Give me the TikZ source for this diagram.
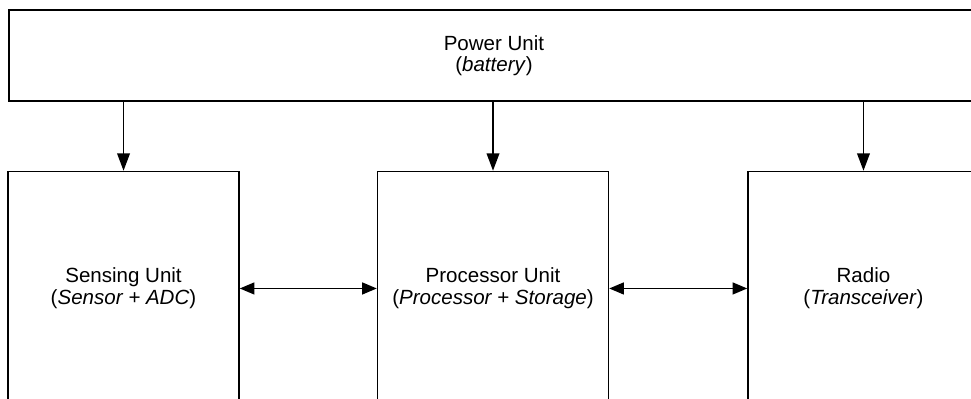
\documentclass[tikz,border=0pt]{standalone}
\usepackage{fontspec}
\setmainfont{Liberation Sans}
\usetikzlibrary{positioning,arrows.meta}

\begin{document}
\begin{tikzpicture}[x=0.75pt, y=-0.75pt, every node/.style={font=\fontsize{15.4}{16.2}\selectfont}]
      \tikzstyle{unitbox}=[draw, line width=1.1pt, align=center, inner sep=0pt, minimum width=173.25pt, minimum height=175.5pt]
      \tikzstyle{feed}=[-{Triangle[length=13pt, width=9.5pt]}, line width=1.1pt]
      \tikzstyle{link}=[{Triangle[length=11pt, width=9pt]}-{Triangle[length=11pt, width=9pt]}, line width=1.1pt]
      \useasboundingbox (0,0) rectangle (971,399);
      \clip (0,0) rectangle (971,399);
      \node[unitbox, minimum width=727.5pt, minimum height=68.25pt] (power) at (494,55.5) {Power Unit\\(\textit{battery})};
      \node[unitbox, below=51.75pt of power.south, anchor=north, xshift=-0.75pt] (proc) {Processor Unit\\(\textit{Processor + Storage})};
      \node[unitbox, left=102.75pt of proc] (sense) {Sensing Unit\\(\textit{Sensor + ADC})};
      \node[unitbox, right=103.5pt of proc] (radio) {Radio\\(\textit{Transceiver})};
      % power feeds
      \draw[feed] (power.south -| sense.north) -- (sense.north);
      \draw[feed] (power.south -| proc.north) -- (proc.north);
      \draw[feed] (power.south -| radio.north) -- (radio.north);
      % data links
      \draw[link] (sense) -- (proc);
      \draw[link] (proc) -- (radio);
    \end{tikzpicture}
\end{document}
